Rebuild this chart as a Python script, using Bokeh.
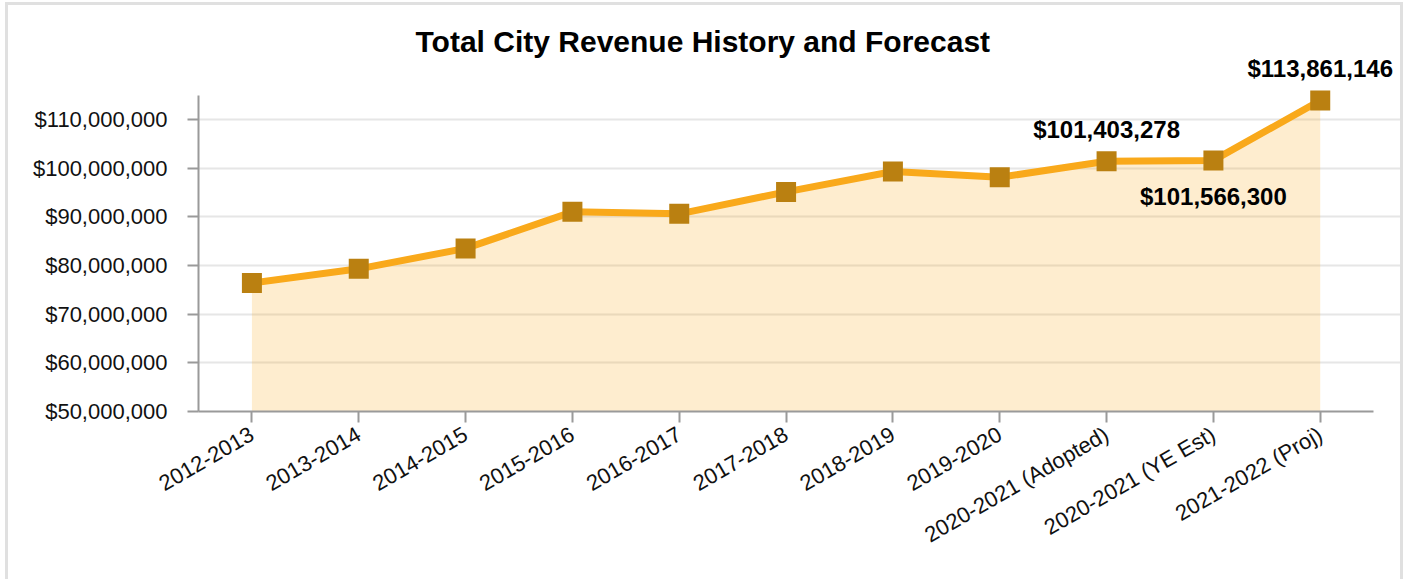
import math
from bokeh.plotting import figure
from bokeh.models import Range1d, NumeralTickFormatter, FixedTicker, Label, ColumnDataSource
from bokeh.embed import file_html
from bokeh.resources import INLINE

categories = ["2012-2013", "2013-2014", "2014-2015", "2015-2016", "2016-2017",
              "2017-2018", "2018-2019", "2019-2020", "2020-2021 (Adopted)",
              "2020-2021 (YE Est)", "2021-2022 (Proj)"]
revenue = [76_400_000, 79_300_000, 83_500_000, 91_000_000, 90_600_000,
           95_100_000, 99_300_000, 98_100_000, 101_403_278, 101_566_300, 113_861_146]
y_ticks = [50_000_000, 60_000_000, 70_000_000, 80_000_000, 90_000_000, 100_000_000, 110_000_000]
labeled_points = ["2020-2021 (Adopted)", "2020-2021 (YE Est)", "2021-2022 (Proj)"]
label_side = ["above", "below", "above"]

FONT = "Liberation Sans"
y_min, y_axis_top, y_view_top = 50_000_000, 115_000_000, 122_500_000
n = len(categories)
xpos = list(range(n))

p = figure(x_range=Range1d(-0.5, n - 0.23), y_range=Range1d(y_min, y_view_top),
           width=1398, height=577, output_backend="svg", toolbar_location=None,
           min_border_left=190, min_border_right=4, min_border_top=53, min_border_bottom=171)
p.styles = {"border-left": "3px solid #e0e0e0", "border-right": "3px solid #e0e0e0",
            "border-top": "3px solid #e0e0e0", "margin-left": "5px", "margin-top": "2px"}

p.title.text = "Total City Revenue History and Forecast"
p.title.text_font = FONT
p.title.text_font_size = "30px"
p.title.text_font_style = "bold"
p.title.text_color = "#000000"
p.title.align = "left"
p.title.offset = 217
p.title.standoff = 2

p.outline_line_color = None
p.background_fill_color = "white"
p.border_fill_color = "white"

src = ColumnDataSource(dict(x=xpos, y=revenue, base=[y_min] * n))
p.varea(x="x", y1="base", y2="y", source=src, fill_color="#F9A91B", fill_alpha=0.21)
p.line(x="x", y="y", source=src, line_color="#F9A91B", line_width=7)
p.scatter(x="x", y="y", source=src, marker="square", size=20, fill_color="#BA8011", line_color=None)

for cat, side in zip(labeled_points, label_side):
    i = categories.index(cat)
    v = revenue[i]
    p.add_layout(Label(x=xpos[i], y=v, text=f"${v:,.0f}", text_align="center", text_baseline="middle",
                       y_offset=32 if side == "above" else -36,
                       text_font=FONT, text_font_size="24px", text_font_style="bold",
                       text_color="#000000"))

p.yaxis.ticker = FixedTicker(ticks=y_ticks)
p.yaxis.formatter = NumeralTickFormatter(format="$0,0")
p.yaxis.bounds = (y_min, y_axis_top)
p.xaxis.ticker = FixedTicker(ticks=xpos)
p.xaxis.major_label_overrides = {i: c for i, c in zip(xpos, categories)}
p.xaxis.bounds = (-0.5, n - 0.5)
p.xgrid.grid_line_color = None
p.ygrid.grid_line_color = "#e6e6e6"
p.ygrid.grid_line_width = 2

for ax in (p.xaxis, p.yaxis):
    ax.axis_line_color = "#9a9a9a"
    ax.axis_line_width = 2
    ax.major_tick_line_color = "#9a9a9a"
    ax.major_tick_line_width = 2
    ax.major_tick_out = 11
    ax.major_tick_in = 0
    ax.minor_tick_line_color = None
    ax.major_label_text_font = FONT
    ax.major_label_text_font_size = "22px"
    ax.major_label_text_color = "#111111"

p.yaxis.major_label_standoff = 20
p.xaxis.major_label_standoff = 10
p.xaxis.major_label_orientation = math.pi / 6

open("out.html", "w").write(file_html(p, INLINE))
